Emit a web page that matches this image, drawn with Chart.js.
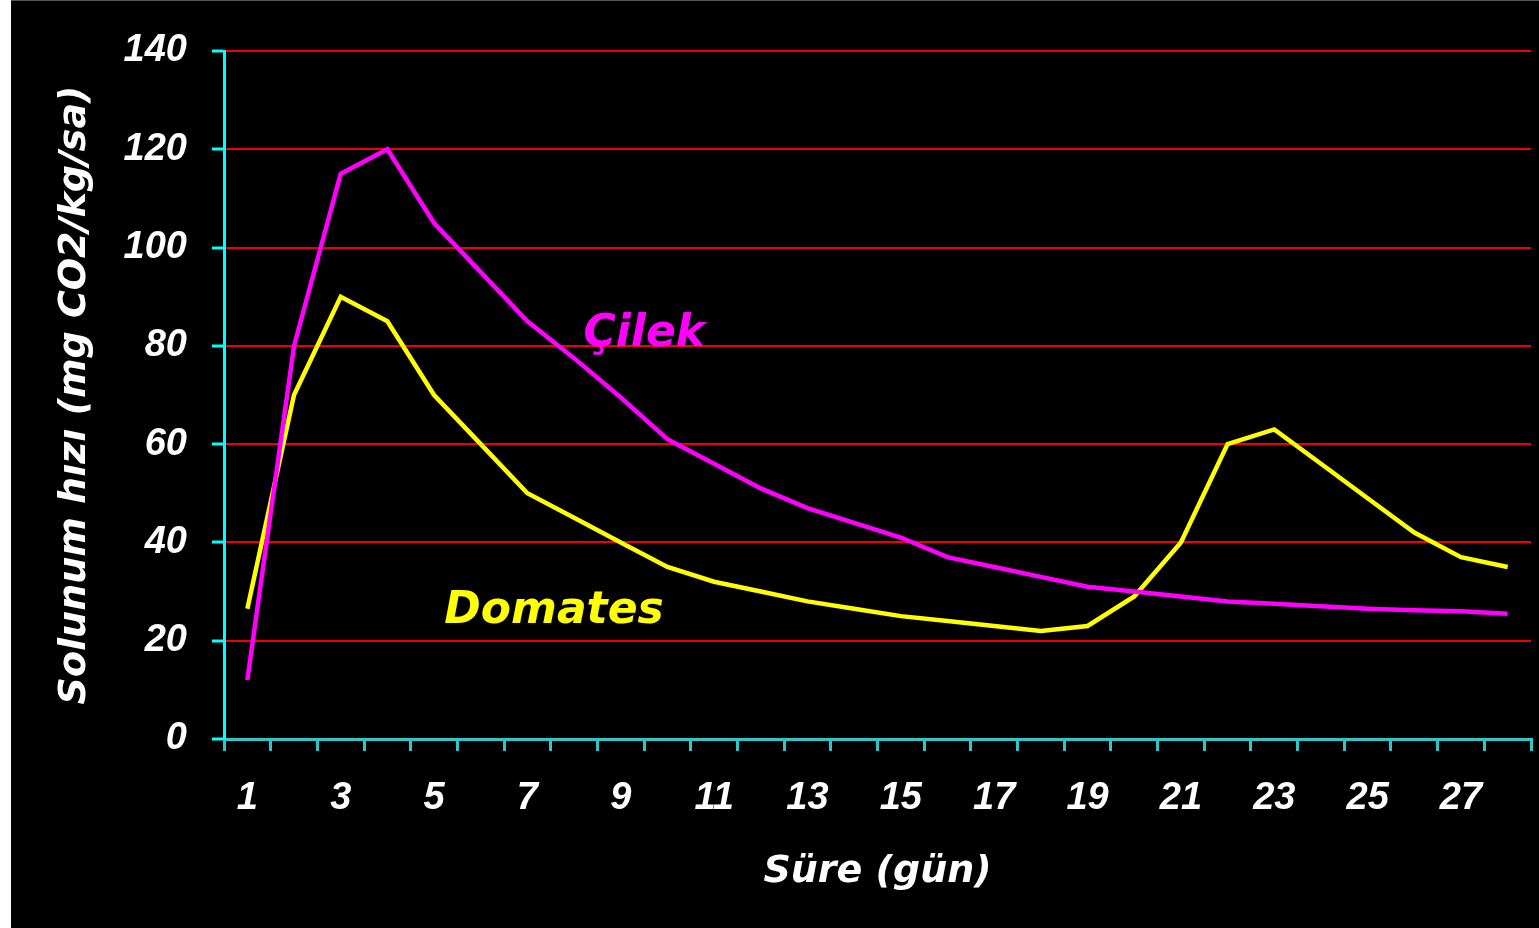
<!DOCTYPE html>
<html>
<head>
<meta charset="utf-8">
<script src="https://cdn.jsdelivr.net/npm/chart.js@4/dist/chart.umd.min.js"></script>
<style>
  html, body { margin: 0; padding: 0; background: #ffffff; width: 1539px; height: 928px; overflow: hidden; }
  #wrap { position: absolute; left: 11px; top: 0; width: 1528px; height: 927px; background: #000; border-top: 1px solid #555; }
  canvas { display: block; }
</style>
</head>
<body>
<div id="wrap"><canvas id="c" width="1528" height="927"></canvas></div>
<script>
// ---- data ----
const days = [1,2,3,4,5,6,7,8,9,10,11,12,13,14,15,16,17,18,19,20,21,22,23,24,25,26,27,28];
const cilek = [12, 80, 115, 120, 105, 95, 85, 77.5, 69.5, 61, 56, 51, 47, 44, 41, 37, 35, 33, 31, 30, 29, 28, 27.5, 27, 26.5, 26.2, 26, 25.5];
const domates = [26.5, 70, 90, 85, 70, 60, 50, 45, 40, 35, 32, 30, 28, 26.5, 25, 24, 23, 22, 23, 29, 40, 60, 63, 56, 49, 42, 37, 35];
const seriesNames = ['Çilek', 'Domates'];
const yTicks = [0, 20, 40, 60, 80, 100, 120, 140];
const yTitle = 'Solunum hızı (mg CO2/kg/sa)';
const xTitle = 'Süre (gün)';
// label anchor positions in data space (category index, value)
const labelAnchors = [[7.2, 80.0], [4.22, 23.6]];

const seriesColors = ['#FF00FF', '#FFFF00'];

const inlineLabels = {
  id: 'inlineLabels',
  afterDatasetsDraw(chart) {
    const ctx = chart.ctx;
    const xs = chart.scales.x, ys = chart.scales.y;
    ctx.save();
    ctx.font = 'italic bold 44px "DejaVu Sans"';
    ctx.textAlign = 'left';
    ctx.textBaseline = 'alphabetic';
    seriesNames.forEach((name, i) => {
      const [xi, yv] = labelAnchors[i];
      ctx.fillStyle = seriesColors[i];
      ctx.fillText(name, xs.getPixelForValue(xi), ys.getPixelForValue(yv));
    });
    ctx.restore();
  }
};

new Chart(document.getElementById('c'), {
  type: 'line',
  data: {
    labels: days,
    datasets: [
      { label: seriesNames[0], data: cilek, borderColor: seriesColors[0], borderWidth: 4.5, pointRadius: 0, tension: 0, fill: false, borderJoinStyle: 'miter' },
      { label: seriesNames[1], data: domates, borderColor: seriesColors[1], borderWidth: 4.5, pointRadius: 0, tension: 0, fill: false, borderJoinStyle: 'miter' }
    ]
  },
  options: {
    responsive: false,
    animation: false,
    layout: { padding: { top: 50, right: 8, left: 0, bottom: 0 } },
    plugins: { legend: { display: false }, tooltip: { enabled: false } },
    scales: {
      x: {
        type: 'category',
        offset: true,
        afterFit(s) { s.height = 189; },
        grid: { offset: true, drawOnChartArea: false, drawTicks: true, tickLength: 12, color: '#2FC8C8', lineWidth: 3 },
        border: { color: '#2FC8C8', width: 3 },
        ticks: {
          autoSkip: false, maxRotation: 0, minRotation: 0, padding: 25,
          color: '#ffffff',
          font: { family: '"Liberation Sans", Arial, sans-serif', size: 38, style: 'italic', weight: 'bold' },
          callback(v, i) { return i % 2 === 0 ? String(days[i]) : ''; }
        },
        title: {
          display: true, text: xTitle, color: '#ffffff',
          font: { family: '"DejaVu Sans", sans-serif', size: 38, style: 'italic', weight: 'bold' },
          padding: { top: 0, bottom: 33 }
        }
      },
      y: {
        min: 0, max: 140,
        afterFit(s) { s.width = 213; },
        afterBuildTicks(s) { s.ticks = yTicks.map(v => ({ value: v })); },
        grid: {
          color: (c) => (c.tick && c.tick.value === 0) ? 'rgba(0,0,0,0)' : '#F00000',
          lineWidth: 2, tickColor: '#00FFFF', tickLength: 12, tickWidth: 3
        },
        border: { color: '#00FFFF', width: 3 },
        ticks: {
          padding: 25, color: '#ffffff',
          font: { family: '"Liberation Sans", Arial, sans-serif', size: 38, style: 'italic', weight: 'bold' }
        },
        title: {
          display: true, text: yTitle, color: '#ffffff',
          font: { family: '"DejaVu Sans", sans-serif', size: 38, style: 'italic', weight: 'bold' },
          padding: { top: 41, bottom: 0 }
        }
      }
    }
  },
  plugins: [inlineLabels]
});
</script>
</body>
</html>
